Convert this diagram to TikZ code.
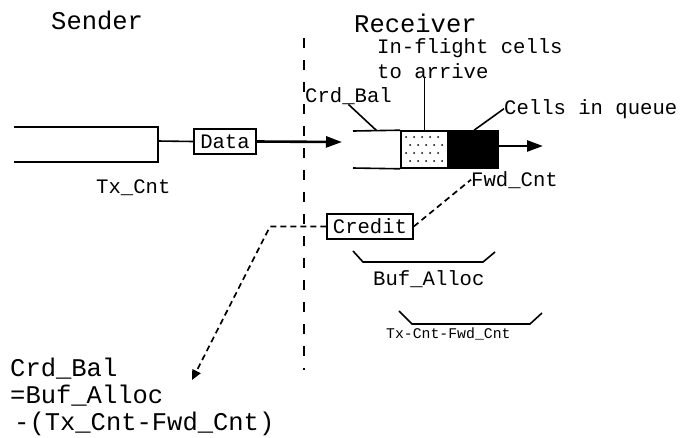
\documentclass[tikz,border=0pt]{standalone}
\usepackage{fontspec}
\newfontfamily\cour{Liberation Mono}
\usetikzlibrary{arrows.meta,calc}
\tikzset{
  bigtxt/.style={font=\cour\fontsize{25.5}{27}\selectfont, inner sep=0pt},
  midtxt/.style={font=\cour\fontsize{20.6}{25}\selectfont, inner sep=0pt},
  smalltxt/.style={font=\cour\fontsize{14.8}{17}\selectfont, inner sep=0pt},
  pkt/.style={draw, line width=1.5pt, midtxt, inner sep=1pt},
  qline/.style={line width=1.6pt},
  flow/.style={line width=2.6pt, -{Triangle[length=16pt,width=11pt]}},
  crd/.style={line width=1.7pt, dash pattern=on 6pt off 4pt},
}
\begin{document}
\begin{tikzpicture}[x=1pt,y=-1pt]
\useasboundingbox (0,0) rectangle (687,437);
% labels
\node (sender) [bigtxt, anchor=base west] at (51,29) {Sender};
\node (receiver) [bigtxt, anchor=base west] at (354,32) {Receiver};
\node (inflight) [midtxt, anchor=base west, align=left] at (377,78) {In-flight cells\\to arrive};
\node (crdbal) [midtxt, anchor=base west] at (305,102) {Crd\_Bal};
\node (cellslbl) [midtxt, anchor=base west] at (504,114) {Cells in queue};
\node (txcnt) [midtxt, anchor=base west] at (96,193) {Tx\_Cnt};
\node (fwd) [midtxt, anchor=base west] at (471,186) {Fwd\_Cnt};
\node (bufalloc) [midtxt, anchor=base west] at (373,285) {Buf\_Alloc};
\node (diff) [smalltxt, anchor=base west] at (386,338) {Tx-Cnt-Fwd\_Cnt};
\node (formula) [bigtxt, anchor=base west, align=left] at (10,430) {Crd\_Bal\\=Buf\_Alloc\\\hspace{4pt}-(Tx\_Cnt-Fwd\_Cnt)};
% link boundary
\coordinate (linktop) at (304,38);
\coordinate (linkbot) at (304,370);
\draw[line width=2pt, dash pattern=on 10pt off 12pt] (linktop) -- (linkbot);
% sender queue
\coordinate (sqend) at (158,141);
\draw[qline] (14,127) -- (158,127) -- (158,162) -- (14,162);
\node (data) [pkt, minimum width=62, minimum height=25] at (225,141.5) {Data};
\coordinate (din) at (342,142);
\draw[qline] (sqend) -- (data.west);
\draw[flow] (data.east) -- (din);
% receiver queue
\node (inq) [draw, qline, minimum width=47, minimum height=37, inner sep=0pt] at (424.5,149.5) {};
\foreach \r in {0,...,3}
  \foreach \c in {0,...,4}
    \fill ({406+8*\c+4*mod(\r,2)},{137+8*\r}) circle (1);
\node (cells) [draw, fill=black, qline, minimum width=49, minimum height=37, inner sep=0pt, anchor=west] at (inq.east) {};
\coordinate (rqtop) at (353,131);
\coordinate (rqbot) at (353,168);
\coordinate (dout) at (543,146);
\draw[qline] (rqtop) -- (inq.north west);
\draw[qline] (rqbot) -- (inq.south west);
\draw[flow] (cells.east |- dout) -- (dout);
% pointers
\draw[qline] (crdbal.south) -- ($(rqtop)!0.5!(inq.north west)$);
\draw[qline] (inq.north |- inflight.south) -- (inq.north);
\draw[qline] (cellslbl.west) -- (cells.north);
% credit
\node (credit) [pkt, minimum width=86, minimum height=25] at (370,226.5) {Credit};
\coordinate (bend) at (270,226.5);
\coordinate (tip) at (192,380);
\draw[crd, -{Triangle[length=10pt,width=9pt]}] (credit.west) -- (bend) -- (tip);
\draw[crd] (credit.east) -- (fwd.west);
% sizes
\draw[qline] (353,251) -- (363,262) -- (483,262) -- (495,252);
\draw[qline] (399,311) -- (412,324) -- (530,324) -- (542,313);
\end{tikzpicture}
\end{document}
